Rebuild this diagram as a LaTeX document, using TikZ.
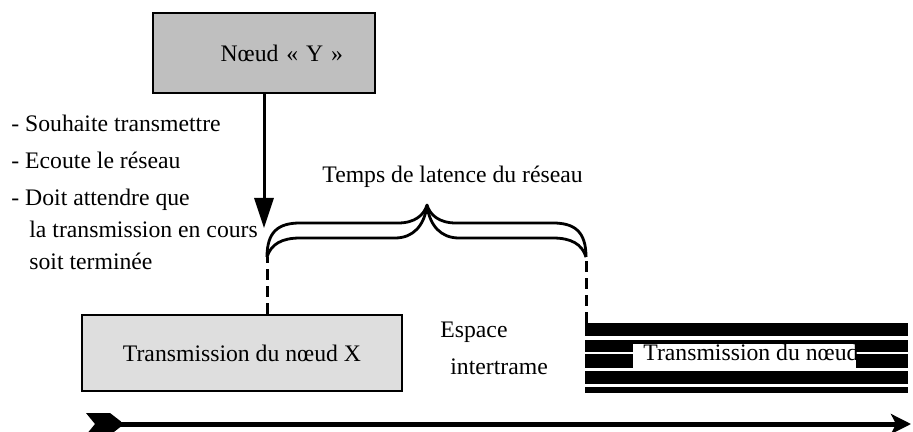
\documentclass[tikz,border=0pt]{standalone}
\usepackage{fontspec}
\setmainfont{Liberation Serif}
\usetikzlibrary{arrows.meta}

\begin{document}
\begin{tikzpicture}[x=0.5pt,y=-0.5pt]
\tikzstyle{every node}+=[inner sep=0pt, font=\fontsize{11.85}{14}\selectfont]
\tikzstyle{boite}=[draw=black, line width=1.2pt, rectangle]
\tikzstyle{ligne}=[anchor=base west]
\tikzstyle{pointille}=[line width=1.5pt, dash pattern=on 5.5pt off 3pt]
\tikzstyle{accolade}=[line width=1.4pt, line join=round]
\useasboundingbox (0,0) rectangle (913,432);
\node[boite, fill=black!25, minimum width=111pt, minimum height=40pt, inner xsep=16pt, text width=79pt, align=right] (noeudY) at (264,53) {Nœud «~Y~»};
\node[ligne] (etape1) at (11,132) {- Souhaite transmettre};
\node[ligne] (etape2) at (11,169) {- Ecoute le réseau};
\node[ligne] (etape3) at (11,206) {- Doit attendre que};
\node[ligne] (etape4) at (29,238) {la transmission en cours};
\node[ligne] (etape5) at (29,270) {soit terminée};
\coordinate (arrivee) at (264,228);
\draw [line width=1.5pt, -{Triangle[length=15pt,width=9.5pt]}] (noeudY.south) -- (arrivee);
\node[ligne] (latence) at (322,183) {Temps de latence du réseau};
\coordinate (accG) at (267,257);
\coordinate (accD) at (586,257);
\draw [accolade] (accG) .. controls (267,232) and (278,223) .. (300,223) -- (398,223) .. controls (415,223) and (424,215) .. (427,205) .. controls (430,215) and (439,223) .. (456,223) -- (553,223) .. controls (575,223) and (586,232) .. (accD);
\draw [accolade] (accG) .. controls (271,244) and (282,238) .. (300,238) -- (395,238) .. controls (413,238) and (424,226) .. (427,206) .. controls (430,226) and (441,238) .. (459,238) -- (553,238) .. controls (571,238) and (582,244) .. (accD);
\node[boite, fill=black!13, minimum width=160pt, minimum height=38pt] (noeudX) at (242,353) {Transmission du nœud X};
\node[ligne] (espace) at (440,337) {Espace};
\node[ligne] (intertrame) at (450,374) {intertrame};
\node[minimum width=161.5pt, minimum height=35pt] (trameY) at (746.5,358) {};
\foreach \ya/\yb in {323/336,340/352,354/368,371/384,387/393}
  \fill [black] (585,\ya) rectangle (908,\yb);
\node[fill=white, minimum width=111.5pt, minimum height=12pt] (cache) at (744.5,356) {};
\begin{scope}
\clip (cache.south west) rectangle (cache.north east);
\node[ligne] (texteY) at (643,360) {Transmission du nœud Y};
\end{scope}
\draw [pointille] (noeudX.north -| accG) -- (accG);
\draw [pointille] (trameY.north -| accD) -- (accD);
\coordinate (debut) at (112,424);
\coordinate (fin) at (911,424);
\fill [black] (86,413) -- (110,413) -- (121,421.5) -- (121,426.5) -- (110,435) -- (86,435) -- (95,424) -- cycle;
\draw [line width=2.5pt, -{Stealth[length=10pt,width=10pt,inset=2.5pt]}] (debut) -- (fin);
\end{tikzpicture}
\end{document}
